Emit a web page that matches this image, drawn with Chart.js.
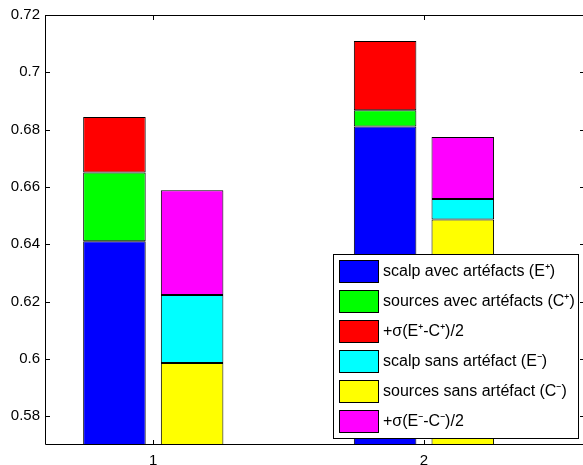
<!DOCTYPE html>
<html lang="fr">
<head>
    <meta charset="UTF-8">
    <title>Scalp / sources avec et sans artéfacts</title>
    <style>
        html, body {
            margin: 0;
            padding: 0;
            background-color: #fff;
            overflow: hidden;
        }
        #wrap {
            position: relative;
            width: 586px;
            height: 465px;
        }
    </style>
</head>
<body>
    <div id="wrap"><canvas id="chart"></canvas></div>

    <script src="https://cdn.jsdelivr.net/npm/chart.js@4"></script>
    <script>
        // groupes sur l'axe x
        const groups = [1, 2];
        const yTicks = [0.58, 0.6, 0.62, 0.64, 0.66, 0.68, 0.7, 0.72];

        // barre de gauche (avec artéfacts) : segments empilés
        const scalpAvec = [0.6411, 0.6811];     // E+
        const sourcesAvec = [0.0240, 0.0057];   // C+
        const sigmaAvec = [0.0193, 0.0241];     // +sigma(E+-C+)/2

        // barre de droite (sans artéfact) : segments empilés
        const sourcesSans = [0.5986, 0.6487];   // C-
        const scalpSans = [0.0237, 0.0071];     // E-
        const sigmaSans = [0.0366, 0.0216];     // +sigma(E--C-)/2

        const labels = [
            'scalp avec artéfacts (E\u207A)',
            'sources avec artéfacts (C\u207A)',
            '+σ(E\u207A-C\u207A)/2',
            'scalp sans artéfact (E\u207B)',
            'sources sans artéfact (C\u207B)',
            '+σ(E\u207B-C\u207B)/2'
        ];

        function points(values) {
            return groups.map((g, i) => ({ x: g, y: values[i] }));
        }

        const datasets = [
            { label: labels[0], data: points(scalpAvec), stack: 'avec', backgroundColor: '#0000ff' },
            { label: labels[1], data: points(sourcesAvec), stack: 'avec', backgroundColor: '#00ff00' },
            { label: labels[2], data: points(sigmaAvec), stack: 'avec', backgroundColor: '#ff0000' },
            { label: labels[4], data: points(sourcesSans), stack: 'sans', backgroundColor: '#ffff00' },
            { label: labels[3], data: points(scalpSans), stack: 'sans', backgroundColor: '#00ffff' },
            { label: labels[5], data: points(sigmaSans), stack: 'sans', backgroundColor: '#ff00ff' }
        ];
        // ordre de la légende (indices des datasets)
        const legendOrder = [0, 1, 2, 4, 3, 5];

        const FONT = '"Liberation Sans", Arial, Helvetica, sans-serif';

        // cadre façon matlab : boîte, graduations vers l'intérieur, légende
        const matlabBox = {
            id: 'matlabBox',
            afterDatasetsDraw(chart) {
                const ctx = chart.ctx;
                const a = chart.chartArea;
                const x = chart.scales.x;
                const y = chart.scales.y;
                ctx.save();
                ctx.strokeStyle = '#000';
                ctx.lineWidth = 1;
                ctx.beginPath();
                ctx.rect(a.left + 0.5, a.top + 0.5, a.right - a.left - 1, a.bottom - a.top - 1);
                y.ticks.forEach(t => {
                    const p = Math.round(y.getPixelForValue(t.value)) + 0.5;
                    ctx.moveTo(a.left, p); ctx.lineTo(a.left + 5, p);
                    ctx.moveTo(a.right, p); ctx.lineTo(a.right - 5, p);
                });
                x.ticks.forEach(t => {
                    const p = Math.round(x.getPixelForValue(t.value)) + 0.5;
                    ctx.moveTo(p, a.top); ctx.lineTo(p, a.top + 5);
                    ctx.moveTo(p, a.bottom); ctx.lineTo(p, a.bottom - 5);
                });
                ctx.stroke();

                // légende
                const w = 246, h = 185;
                const bx = a.right - 6 - w;
                const by = a.bottom - 6 - h;
                ctx.fillStyle = '#fff';
                ctx.fillRect(bx, by, w, h);
                ctx.strokeRect(bx + 0.5, by + 0.5, w - 1, h - 1);
                ctx.font = '16px ' + FONT;
                ctx.textBaseline = 'middle';
                ctx.textAlign = 'left';
                legendOrder.forEach((di, row) => {
                    const ds = chart.data.datasets[di];
                    const sy = by + 6 + row * 30;
                    ctx.fillStyle = ds.backgroundColor;
                    ctx.fillRect(bx + 6, sy, 40, 23);
                    ctx.strokeRect(bx + 6.5, sy + 0.5, 39, 22);
                    ctx.fillStyle = '#000';
                    ctx.fillText(ds.label, bx + 50, sy + 12);
                });
                ctx.restore();
            }
        };

        new Chart(document.getElementById('chart'), {
            type: 'bar',
            data: { datasets: datasets },
            plugins: [matlabBox],
            options: {
                responsive: true,
                maintainAspectRatio: false,
                animation: false,
                layout: { padding: { top: 15, right: 1, left: 0, bottom: 0 } },
                datasets: {
                    bar: {
                        categoryPercentage: 0.574,
                        barPercentage: 0.805,
                        borderColor: '#000',
                        borderWidth: 1,
                        borderSkipped: false
                    }
                },
                plugins: {
                    legend: { display: false },
                    tooltip: { enabled: false }
                },
                scales: {
                    x: {
                        type: 'linear',
                        offset: false,
                        min: 0.6,
                        max: 2.595,
                        grid: { display: false, drawTicks: false, offset: false },
                        border: { display: false },
                        afterBuildTicks: s => { s.ticks = groups.map(v => ({ value: v })); },
                        afterFit: s => { s.height = 20; },
                        ticks: {
                            padding: 7,
                            color: '#000',
                            font: { family: FONT, size: 15 },
                            callback: v => String(v)
                        }
                    },
                    y: {
                        stacked: true,
                        min: 0.57,
                        max: 0.72,
                        grid: { display: false, drawTicks: false },
                        border: { display: false },
                        afterBuildTicks: s => { s.ticks = yTicks.map(v => ({ value: v })); },
                        afterFit: s => { s.width = 45; },
                        ticks: {
                            padding: 5,
                            color: '#000',
                            font: { family: FONT, size: 15 },
                            callback: v => String(+v.toFixed(2))
                        }
                    }
                }
            }
        });
    </script>
</body>
</html>
